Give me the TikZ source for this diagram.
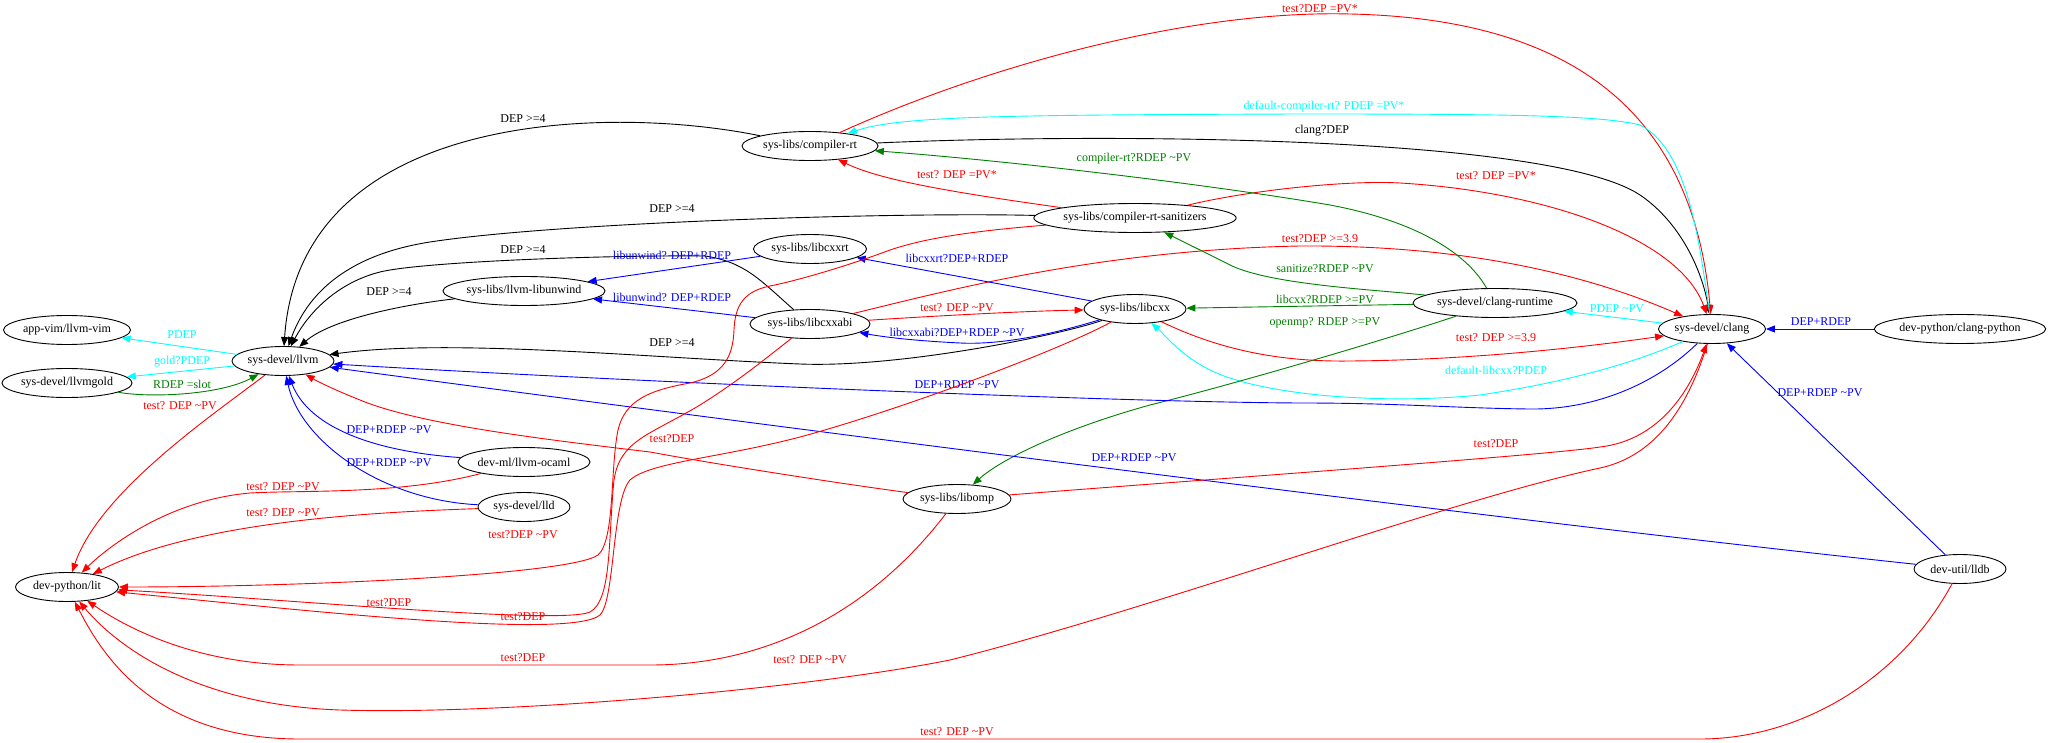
\documentclass[tikz,border=0pt]{standalone}
\usepackage{fontspec}
\setmainfont{Liberation Serif}
\usetikzlibrary{arrows.meta,shapes.geometric}
\definecolor{gvgreen}{RGB}{0,128,0}
\definecolor{gvcyan}{RGB}{0,255,255}
\definecolor{gvred}{RGB}{255,0,0}
\definecolor{gvblue}{RGB}{0,0,255}
\newcommand\tld{\textasciitilde}
\begin{document}
\begin{tikzpicture}[x=1pt,y=-1pt,
  pkg/.style={ellipse,draw,line width=0.9pt,minimum height=29pt,inner sep=0pt,font=\fontsize{12}{14}\selectfont},
  lbl/.style={inner sep=0pt,font=\fontsize{12}{14}\selectfont},
  edge/.style={line width=0.9pt,-{Triangle[length=9pt,width=7pt]}},
  blk/.style={edge,black},
  rd/.style={edge,gvred},
  bl/.style={edge,gvblue},
  gr/.style={edge,gvgreen},
  cy/.style={edge,gvcyan},
  lrd/.style={lbl,text=gvred},
  lbl2/.style={lbl,text=gvblue},
  lgr/.style={lbl,text=gvgreen},
  lcy/.style={lbl,text=gvcyan},
]
\useasboundingbox[fill=white] (0,0) rectangle (2048,743);

% nodes
\node[pkg,minimum width=127pt] (vim) at (67,330) {app-vim/llvm-vim};
\node[pkg,minimum width=128pt] (gold) at (67,383) {sys-devel/llvmgold};
\node[pkg,minimum width=102pt] (llvm) at (283,361) {sys-devel/llvm};
\node[pkg,minimum width=103pt] (lit) at (67,587) {dev-python/lit};
\node[pkg,minimum width=157pt] (unw) at (524,291) {sys-libs/llvm-libunwind};
\node[pkg,minimum width=113pt] (cxxrt) at (810,249) {sys-libs/libcxxrt};
\node[pkg,minimum width=120pt] (cxxabi) at (810,324) {sys-libs/libcxxabi};
\node[pkg,minimum width=136pt] (crt) at (810,146) {sys-libs/compiler-rt};
\node[pkg,minimum width=196pt] (san) at (1135,218) {sys-libs/compiler-rt-sanitizers};
\node[pkg,minimum width=102pt] (cxx) at (1135,309) {sys-libs/libcxx};
\node[pkg,minimum width=160pt] (crun) at (1495,303) {sys-devel/clang-runtime};
\node[pkg,minimum width=107pt] (clang) at (1712,329) {sys-devel/clang};
\node[pkg,minimum width=168pt] (cpy) at (1960,329) {dev-python/clang-python};
\node[pkg,minimum width=132pt] (ocaml) at (524,462) {dev-ml/llvm-ocaml};
\node[pkg,minimum width=92pt] (lld) at (524,507) {sys-devel/lld};
\node[pkg,minimum width=108pt] (omp) at (957,499) {sys-libs/libomp};
\node[pkg,minimum width=92pt] (lldb) at (1960,569) {dev-util/lldb};

% black edges
\draw[blk] (crt) .. controls (610,105) and (300,110) .. (llvm);
\node[lbl] (l1) at (523,119) {DEP >=4};
\draw[blk] (san) .. controls (900,212) and (560,222) .. (430,242) .. controls (340,256) and (305,300) .. (llvm);
\node[lbl] (l2) at (672,209) {DEP >=4};
\draw[blk] (cxxabi) .. controls (760,280) and (745,262) .. (705,256) .. controls (600,255) and (420,262) .. (380,272) .. controls (340,282) and (310,310) .. (llvm);
\node[lbl] (l3) at (523,250) {DEP >=4};
\draw[blk] (unw) .. controls (400,305) and (330,320) .. (llvm);
\node[lbl] (l4) at (389,292) {DEP >=4};
\draw[blk] (cxx) .. controls (1060,335) and (900,368) .. (800,364) .. controls (650,358) and (450,338) .. (llvm);
\node[lbl] (l5) at (672,343) {DEP >=4};
\draw[blk] (crt) .. controls (1100,133) and (1550,135) .. (1640,195) .. controls (1680,222) and (1702,270) .. (clang);
\node[lbl] (l6) at (1322,131) {clang?DEP};

% red edges around clang / compiler-rt
\draw[rd] (crt) .. controls (1000,60) and (1200,10) .. (1350,14) .. controls (1530,18) and (1690,80) .. (clang);
\node[lrd] (l7) at (1320,9) {test?DEP =PV*};
\draw[rd] (san) .. controls (1250,190) and (1350,180) .. (1400,183) .. controls (1550,192) and (1680,240) .. (clang);
\node[lrd] (l8) at (1496,176) {test? DEP =PV*};
\draw[rd] (cxxabi) .. controls (950,290) and (1100,250) .. (1300,246) .. controls (1480,245) and (1600,280) .. (clang);
\node[lrd] (l9) at (1320,239) {test?DEP >=3.9};
\draw[rd] (cxx) .. controls (1220,350) and (1280,362) .. (1350,361) .. controls (1480,360) and (1600,345) .. (clang);
\node[lrd] (l10) at (1496,338) {test? DEP >=3.9};
\draw[rd] (cxxabi) .. controls (950,315) and (1030,311) .. (cxx);
\node[lrd] (l11) at (957,308) {test? DEP \tld PV};
\draw[rd] (san) .. controls (950,192) and (880,180) .. (crt);
\node[lrd] (l12) at (957,175) {test? DEP =PV*};

% cyan
\draw[cy] (clang) .. controls (1700,250) and (1690,150) .. (1640,125) .. controls (1600,115) and (1500,114) .. (1300,114) .. controls (1000,115) and (900,116) .. (crt);
\node[lcy] (l13) at (1324,107) {default-compiler-rt? PDEP =PV*};
\draw[cy] (clang) -- (crun);
\node[lcy] (l18) at (1617,309) {PDEP \tld PV};
\draw[cy] (clang) .. controls (1640,360) and (1580,380) .. (1480,395) .. controls (1380,405) and (1260,395) .. (1210,370) .. controls (1180,355) and (1165,335) .. (cxx);
\node[lcy] (l19) at (1496,370) {default-libcxx?PDEP};
\draw[cy] (llvm) -- (vim);
\node[lcy] (l28) at (182,335) {PDEP};
\draw[cy] (llvm) -- (gold);
\node[lcy] (l29) at (182,362) {gold?PDEP};

% green
\draw[gr] (crun) .. controls (1465,250) and (1410,220) .. (1330,205) .. controls (1200,183) and (1000,160) .. (crt);
\node[lgr] (l14) at (1134,159) {compiler-rt?RDEP \tld PV};
\draw[gr] (crun) .. controls (1380,290) and (1270,285) .. (1230,265) .. controls (1200,250) and (1180,240) .. (san);
\node[lgr] (l15) at (1325,269) {sanitize?RDEP \tld PV};
\draw[gr] (crun) -- (cxx);
\node[lgr] (l16) at (1325,299) {libcxx?RDEP >=PV};
\draw[gr] (crun) .. controls (1400,335) and (1250,380) .. (1150,405) .. controls (1060,430) and (1000,460) .. (omp);
\node[lgr] (l17) at (1325,323) {openmp? RDEP >=PV};
\draw[gr] (gold) .. controls (150,398) and (220,395) .. (llvm);
\node[lgr] (l30) at (182,384) {RDEP =slot};

% blue
\draw[bl] (clang) .. controls (1660,380) and (1600,410) .. (1529,409) .. controls (1450,408) and (1400,403) .. (1300,403) .. controls (1100,402) and (600,380) .. (llvm);
\node[lbl2] (l20) at (957,385) {DEP+RDEP \tld PV};
\draw[bl] (lldb) .. controls (1500,520) and (800,430) .. (llvm);
\node[lbl2] (l21) at (1134,458) {DEP+RDEP \tld PV};
\draw[bl] (lldb) -- (clang);
\node[lbl2] (l22) at (1820,393) {DEP+RDEP \tld PV};
\draw[bl] (cpy) -- (clang);
\node[lbl2] (l23) at (1821,322) {DEP+RDEP};
\draw[bl] (cxx) -- (cxxrt);
\node[lbl2] (l24) at (957,258) {libcxxrt?DEP+RDEP};
\draw[bl] (cxx) .. controls (1050,335) and (1000,345) .. (960,343) .. controls (920,341) and (890,338) .. (cxxabi);
\node[lbl2] (l25) at (957,332) {libcxxabi?DEP+RDEP \tld PV};
\draw[bl] (cxxrt) -- (unw);
\node[lbl2] (l26) at (672,255) {libunwind? DEP+RDEP};
\draw[bl] (cxxabi) -- (unw);
\node[lbl2] (l27) at (672,297) {libunwind? DEP+RDEP};
\draw[bl] (ocaml) .. controls (380,452) and (310,430) .. (llvm);
\node[lbl2] (l31) at (389,430) {DEP+RDEP \tld PV};
\draw[bl] (lld) .. controls (380,500) and (300,440) .. (llvm);
\node[lbl2] (l32) at (389,463) {DEP+RDEP \tld PV};

% red to lit
\draw[rd] (llvm) .. controls (220,410) and (100,490) .. (lit);
\node[lrd] (l33) at (180,406) {test? DEP \tld PV};
\draw[rd] (ocaml) .. controls (400,495) and (300,490) .. (250,493) .. controls (170,500) and (110,545) .. (lit);
\node[lrd] (l34) at (283,487) {test? DEP \tld PV};
\draw[rd] (lld) .. controls (380,512) and (200,520) .. (lit);
\node[lrd] (l35) at (283,513) {test? DEP \tld PV};
\draw[rd] (lldb) .. controls (1900,680) and (1800,739) .. (1700,739) -- (300,739) .. controls (150,739) and (100,650) .. (lit);
\node[lrd] (l36) at (957,732) {test? DEP \tld PV};
\draw[rd] (clang) .. controls (1690,400) and (1660,455) .. (1600,468) .. controls (1450,500) and (1150,610) .. (950,660) .. controls (800,690) and (500,715) .. (340,710) .. controls (200,705) and (120,650) .. (lit);
\node[lrd] (l37) at (810,660) {test? DEP \tld PV};
\draw[rd] (omp) .. controls (880,600) and (780,665) .. (650,665) -- (300,665) .. controls (200,665) and (130,630) .. (lit);
\node[lrd] (l38) at (523,658) {test?DEP};
\draw[rd] (omp) .. controls (850,485) and (720,465) .. (650,452) .. controls (550,440) and (420,425) .. (360,400) .. controls (330,388) and (315,380) .. (llvm);
\node[lrd] (l39) at (672,439) {test?DEP};
\draw[rd] (omp) .. controls (1200,480) and (1550,455) .. (1600,447) .. controls (1660,440) and (1690,390) .. (clang);
\node[lrd] (l40) at (1496,444) {test?DEP};

\draw[rd] (san) .. controls (960,232) and (920,240) .. (890,250) .. controls (850,265) and (800,280) .. (770,286) .. controls (740,292) and (735,310) .. (734,330) .. controls (733,355) and (725,375) .. (690,383) .. controls (650,390) and (625,400) .. (618,430) .. controls (610,470) and (615,540) .. (598,555) .. controls (570,575) and (300,587) .. (lit);
\node[lrd] (l41) at (523,535) {test?DEP \tld PV};
\draw[rd] (cxxabi) .. controls (770,355) and (740,380) .. (700,405) .. controls (650,435) and (620,440) .. (614,480) .. controls (608,540) and (612,600) .. (590,612) .. controls (560,625) and (300,600) .. (lit);
\node[lrd] (l42) at (389,603) {test?DEP};
\draw[rd] (cxx) .. controls (1060,350) and (900,410) .. (800,437) .. controls (720,458) and (650,462) .. (630,480) .. controls (612,500) and (615,600) .. (600,615) .. controls (570,640) and (300,610) .. (lit);
\node[lrd] (l43) at (523,617) {test?DEP};
\end{tikzpicture}
\end{document}
